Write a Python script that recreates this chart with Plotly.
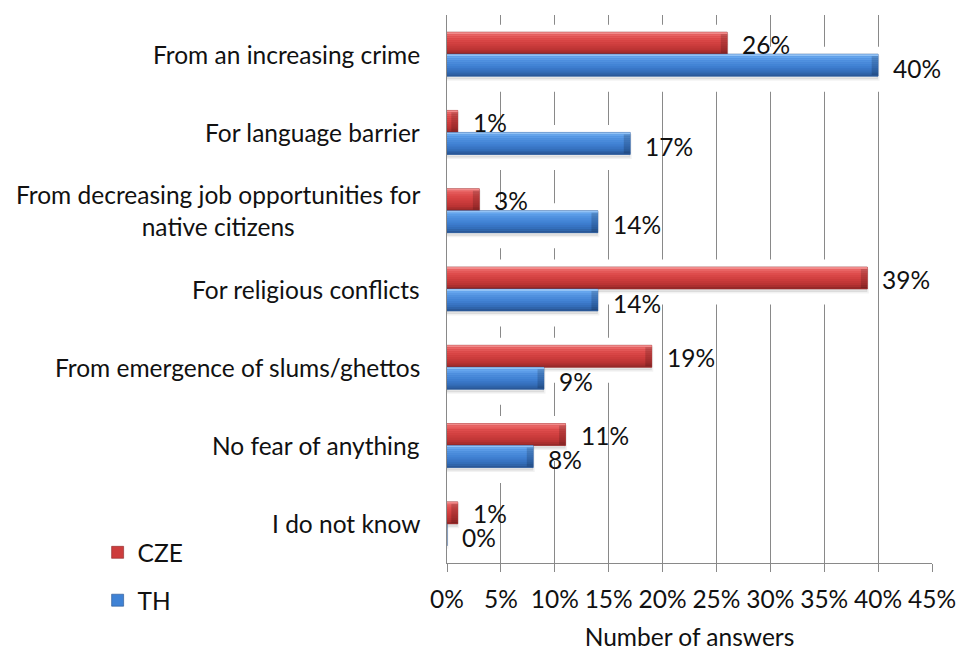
import plotly.graph_objects as go

# Survey answers: what respondents fear from immigration (share of answers, %)
categories = [
    "From an increasing crime",
    "For language barrier",
    "From decreasing job opportunities for<br>native citizens",
    "For religious conflicts",
    "From emergence of slums/ghettos",
    "No fear of anything",
    "I do not know",
]
cze_values = [26, 1, 3, 39, 19, 11, 1]
th_values = [40, 17, 14, 14, 9, 8, 0]
x_tick_values = [0, 5, 10, 15, 20, 25, 30, 35, 40, 45]
x_tick_labels = ["0%", "5%", "10%", "15%", "20%", "25%", "30%", "35%", "40%", "45%"]

FONT = "Lato"
FSIZE = 24.5
TEXT = "#111111"
GRID = "#898989"

# one category band is ~78 px tall; PX converts pixels to category units
PX = 1 / 78.3
BAR = 22 * PX
STRIP = 2  # px per gradient step


def hex_rgb(h):
    h = h.lstrip("#")
    return tuple(int(h[i:i + 2], 16) for i in (0, 2, 4))


def gradient(stops, n):
    """Colour for each of n strips, top to bottom, from (pos, colour) stops."""
    out = []
    for k in range(n):
        t = (k + 0.5) / n
        for (p0, c0), (p1, c1) in zip(stops, stops[1:]):
            if p0 <= t <= p1:
                f = (t - p0) / (p1 - p0)
                a, b = hex_rgb(c0), hex_rgb(c1)
                out.append("rgb(%d,%d,%d)" % tuple(round(a[i] + (b[i] - a[i]) * f) for i in range(3)))
                break
    return out


red_stops = [(0.0, "#f6a0a0"), (0.12, "#ea6666"), (0.3, "#df4d4d"),
             (0.55, "#cf3e3e"), (0.8, "#b93333"), (1.0, "#8c2626")]
blue_stops = [(0.0, "#acd3f9"), (0.12, "#67a7ee"), (0.3, "#5192e0"),
              (0.55, "#4080d2"), (0.8, "#336cb7"), (1.0, "#27528f")]

series = [
    # name, values, bar bottom offset, body colour, edge colour, gradient stops
    ("CZE", cze_values, 0.0, "#cd3d3d", "#8c2626", red_stops),
    ("TH", th_values, -BAR, "#3f82d5", "#27528f", blue_stops),
]

fig = go.Figure()


def layer(vals, offset, width, color, line_color=None, line_width=0, base=None):
    fig.add_trace(go.Bar(
        x=vals, y=categories, orientation="h", base=base,
        offset=offset, width=width,
        marker=dict(color=color,
                    line=dict(color=line_color or color, width=line_width)),
        hoverinfo="skip", showlegend=False))


# white halo under each bar (hides the grid around the bars)
for name, vals, off, body, edge, stops in series:
    layer(vals, off - 14 * PX, BAR + 20 * PX, "white", "white", 3)

# soft drop shadow
for name, vals, off, body, edge, stops in series:
    layer(vals, off - 3 * PX, BAR, "rgba(0,0,0,0.09)", "rgba(0,0,0,0.05)", 3)

# bevelled bars: body with a vertical gradient and a darker right end
n_strips = 11
for name, vals, off, body, edge, stops in series:
    fig.add_trace(go.Bar(
        x=vals, y=categories, orientation="h", name=name,
        offset=off, width=BAR, legendgroup=name,
        marker=dict(color=body, line=dict(color=edge, width=0.6)),
        hovertemplate="%{y}: %{x}%<extra>" + name + "</extra>"))
    for k, col in enumerate(gradient(stops, n_strips)):
        top = off + BAR - k * STRIP * PX
        layer(vals, top - STRIP * PX, STRIP * PX, col)
    cap = [min(v, 0.6) for v in vals]
    cap_base = [v - c for v, c in zip(vals, cap)]
    layer(cap, off + 1 * PX, BAR - 3 * PX, "rgba(0,0,0,0.16)", base=cap_base)

# value labels to the right of each bar
annotations = []
for name, vals, off, *_ in series:
    yshift = 10 if name == "CZE" else -14
    for cat, v in zip(categories, vals):
        annotations.append(dict(
            x=v, y=cat, xref="x", yref="y", text=f"{v}%", showarrow=False,
            xanchor="left", yanchor="middle", xshift=13, yshift=yshift,
            font=dict(family=FONT, size=FSIZE, color=TEXT)))

# category labels, right aligned against the axis, lines centred
for cat in categories:
    annotations.append(dict(
        x=0, y=cat, xref="paper", yref="y", text=cat, showarrow=False,
        xanchor="right", yanchor="middle", align="center", xshift=-25,
        font=dict(family=FONT, size=FSIZE, color=TEXT)))

fig.update_layout(
    width=957, height=651,
    margin=dict(l=447, r=25, t=15, b=88, autoexpand=False),
    paper_bgcolor="white", plot_bgcolor="white",
    barmode="overlay",
    font=dict(family=FONT, size=FSIZE, color=TEXT),
    annotations=annotations,
    showlegend=True,
    legend=dict(
        xref="container", yref="container", x=0.102, y=0.186,
        xanchor="left", yanchor="top",
        traceorder="grouped", tracegroupgap=13,
        font=dict(family=FONT, size=FSIZE, color=TEXT),
        bgcolor="rgba(0,0,0,0)"),
    xaxis=dict(
        range=[0, 45], tickvals=x_tick_values, ticktext=x_tick_labels,
        showgrid=True, gridcolor=GRID, gridwidth=1,
        showline=True, linecolor=GRID, linewidth=1,
        ticks="outside", ticklen=8, tickcolor=GRID,
        tickfont=dict(family=FONT, size=FSIZE, color=TEXT),
        ticklabelstandoff=7, zeroline=False, automargin=False,
        title=dict(text="Number of answers", standoff=21,
                   font=dict(family=FONT, size=FSIZE, color=TEXT))),
    yaxis=dict(
        type="category", categoryorder="array",
        categoryarray=categories[::-1], range=[-0.5, len(categories) - 0.5],
        showticklabels=False, showgrid=False, zeroline=False, automargin=False,
        showline=True, linecolor=GRID, linewidth=1, ticks=""),
)

fig.write_html("out.html")
